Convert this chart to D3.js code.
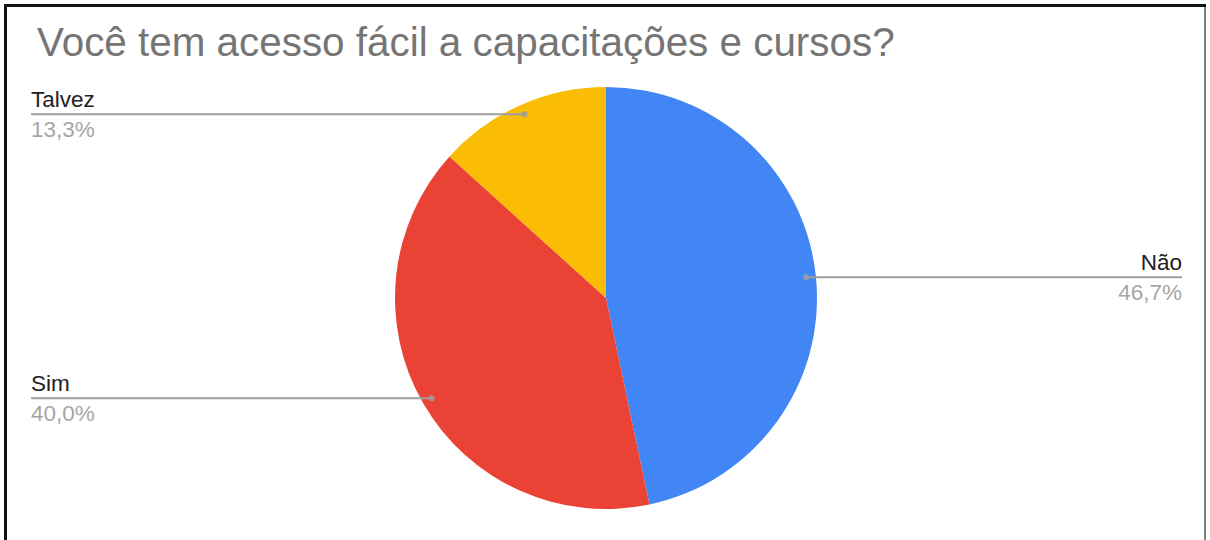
<!DOCTYPE html>
<html>
<head>
<meta charset="utf-8">
<script src="https://cdn.jsdelivr.net/npm/d3@7"></script>
<style>
  html, body { margin: 0; padding: 0; background: #fff; }
  svg { display: block; font-family: "Liberation Sans", Arial, sans-serif; }
</style>
</head>
<body>
<svg id="chart" width="1210" height="540"></svg>
<script>
// Survey answers and their shares (%)
const categories = ["Não", "Sim", "Talvez"];
const shares = [46.7, 40.0, 13.3];
const colors = ["#4285f4", "#ea4335", "#fbbc04"];
const title = "Você tem acesso fácil a capacitações e cursos?";

const W = 1210, H = 540;
const cx = 606, cy = 298, R = 211;
const svg = d3.select("#chart");

// Frame
svg.append("rect").attr("x", 0).attr("y", 0).attr("width", W).attr("height", H).attr("fill", "#fff");
svg.append("line").attr("x1", 4).attr("x2", 1206).attr("y1", 5.5).attr("y2", 5.5)
  .attr("stroke", "#111").attr("stroke-width", 3);
svg.append("line").attr("x1", 5.5).attr("x2", 5.5).attr("y1", 4).attr("y2", H)
  .attr("stroke", "#111").attr("stroke-width", 3);
svg.append("line").attr("x1", 1205).attr("x2", 1205).attr("y1", 7).attr("y2", H)
  .attr("stroke", "#555").attr("stroke-width", 1.5);

// Title
svg.append("text").attr("x", 37).attr("y", 56)
  .attr("font-size", 40.4).attr("fill", "#757575").text(title);

const data = categories.map((c, i) => ({ name: c, value: shares[i], color: colors[i] }));
const pie = d3.pie().value(d => d.value).sort(null);
const arcs = pie(data);
const arc = d3.arc().innerRadius(0).outerRadius(R);

const g = svg.append("g").attr("transform", `translate(${cx},${cy})`);
g.selectAll("path").data(arcs).join("path")
  .attr("d", arc).attr("fill", d => d.data.color);

// Leader lines and labels
const dotR = R * 0.953;
const fmt = v => v.toFixed(1).replace(".", ",") + "%";
arcs.forEach(a => {
  const mid = (a.startAngle + a.endAngle) / 2;
  const px = cx + dotR * Math.sin(mid);
  const py = cy - dotR * Math.cos(mid);
  const right = Math.sin(mid) > 0;
  const endX = right ? 1182 : 31;
  svg.append("line").attr("x1", px).attr("x2", endX).attr("y1", py).attr("y2", py)
    .attr("stroke", "#9e9e9e").attr("stroke-width", 2);
  svg.append("circle").attr("cx", px).attr("cy", py).attr("r", 3)
    .attr("fill", "#9e9e9e").attr("opacity", 0.85);
  const anchor = right ? "end" : "start";
  svg.append("text").attr("x", endX).attr("y", py - 7)
    .attr("font-size", 22.5).attr("fill", "#222").attr("text-anchor", anchor)
    .text(a.data.name);
  svg.append("text").attr("x", endX).attr("y", py + 23)
    .attr("font-size", 22.5).attr("fill", "#a6a6a6").attr("text-anchor", anchor)
    .text(fmt(a.data.value));
});
</script>
</body>
</html>
